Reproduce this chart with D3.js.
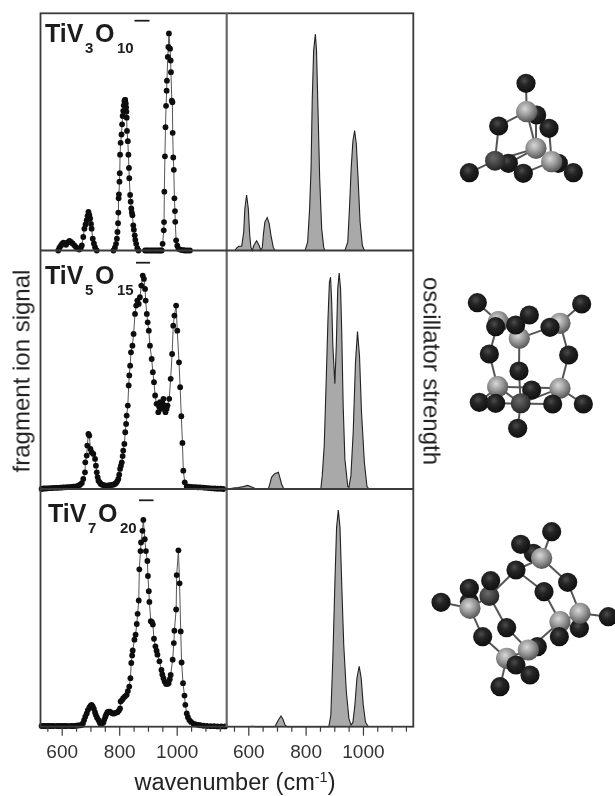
<!DOCTYPE html>
<html><head><meta charset="utf-8">
<script src="https://cdnjs.cloudflare.com/ajax/libs/d3/7.8.5/d3.min.js"></script>
<style>html,body{margin:0;padding:0;background:#fff}svg{display:block}text{font-family:"Liberation Sans",Arial,sans-serif}</style>
</head><body><div id="c"></div>
<script>
// --- wavenumber ticks
const majorTicks=[600,800,1000];
const minorTicks=[550,650,700,750,850,900,950,1050,1100,1150];
// --- measured fragment ion signal [wavenumber, intensity]
const measured3=[[588,0],[592,.012],[597,.02],[601,.028],[606,.033],[610,.03],[615,.024],[621,.034],[627,.04],[632,.036],[638,.03],[644,.022],[650,.014],[656,.008],[661,.004],[666,.01],[670,.021],[675,.057],[679,.092],[683,.11],[687,.128],[690,.146],[693,.163],[696,.15],[699,.135],[702,.112],[704,.092],[708,.05],[712,.03],[716,.014],[722,0],[780,0],[785,.012],[789,.028],[792,.05],[794,.078],[796,.115],[797,.16],[798,.22],[799,.237],[801,.29],[802,.326],[803,.404],[805,.454],[808,.489],[810,.532],[812,.567],[814,.589],[816,.612],[818,.63],[820,.635],[821,.635],[823,.62],[824,.603],[825,.585],[826,.56],[827,.504],[830,.461],[832,.404],[834,.348],[835,.305],[838,.234],[840,.206],[842,.177],[844,.16],[846,.149],[849,.106],[851,.088],[854,.064],[856,.045],[859,.028],[863,.01],[867,0],[890,0],[896,0],[902,0],[908,0],[914,0],[920,0],[926,0],[932,0],[938,0],[943,0],[948,0],[951,.028],[955,.085],[956,.12],[957,.248],[959,.397],[961,.52],[963,.61],[965,.674],[966,.716],[969,.816],[971,.858],[973,.915],[977,.851],[979,.801],[980,.752],[983,.632],[985,.625],[986,.496],[988,.392],[990,.34],[992,.22],[994,.166],[995,.121],[998,.043],[1002,.02],[1006,.007],[1012,.004],[1018,.002],[1024,.001],[1030,0],[1038,0],[1046,0]];
const measured5=[[530,0],[537,.002],[544,.002],[551,.003],[559,.004],[566,.004],[573,.005],[580,.005],[587,.005],[594,.006],[600,.006],[606,.007],[613,.007],[620,.008],[627,.008],[634,.009],[640,.01],[646,.01],[652,.011],[658,.014],[664,.018],[670,.025],[675,.042],[681,.07],[682,.112],[687,.14],[689,.182],[693,.231],[696,.224],[700,.168],[704,.154],[710,.147],[716,.126],[719,.098],[722,.07],[725,.05],[728,.035],[732,.028],[736,.021],[741,.018],[746,.016],[751,.014],[757,.014],[763,.015],[769,.016],[774,.017],[780,.018],[785,.021],[789,.025],[793,.032],[797,.042],[800,.06],[803,.084],[806,.098],[809,.112],[812,.138],[814,.161],[818,.189],[821,.238],[824,.273],[826,.308],[830,.35],[833,.434],[835,.476],[838,.517],[841,.573],[846,.601],[850,.65],[855,.734],[859,.769],[863,.79],[868,.776],[872,.804],[877,.853],[882,.895],[886,.881],[890,.839],[892,.79],[896,.734],[899,.699],[903,.664],[907,.601],[913,.545],[917,.49],[921,.448],[925,.392],[930,.357],[936,.322],[939,.345],[942,.364],[945,.35],[948,.336],[951,.36],[954,.378],[958,.35],[961,.322],[965,.336],[968,.35],[974,.378],[979,.462],[984,.566],[988,.685],[992,.727],[998,.769],[1002,.664],[1008,.531],[1012,.427],[1016,.305],[1020,.193],[1023,.077],[1028,.028],[1035,.011],[1042,.01],[1050,.009],[1058,.008],[1066,.008],[1074,.007],[1082,.007],[1093,.006],[1102,.005],[1112,.004],[1122,.003],[1132,.002],[1142,.001],[1152,.001],[1162,0]];
const measured7=[[530,.003],[537,.003],[544,.003],[551,.003],[558,.003],[565,.003],[572,.003],[583,.003],[590,.003],[597,.003],[604,.003],[611,.003],[618,.003],[629,.003],[636,.003],[643,.003],[650,.004],[657,.005],[664,.006],[670,.007],[674,.015],[678,.028],[682,.042],[687,.056],[691,.07],[696,.08],[700,.088],[704,.092],[708,.085],[712,.075],[716,.06],[719,.049],[723,.038],[728,.028],[732,.018],[736,.01],[740,.012],[745,.018],[748,.03],[752,.042],[755,.052],[759,.061],[763,.063],[768,.063],[774,.058],[780,.055],[787,.058],[794,.061],[799,.068],[803,.077],[805,.106],[810,.112],[814,.12],[820,.127],[826,.134],[830,.15],[835,.169],[839,.204],[842,.268],[845,.3],[847,.321],[853,.366],[857,.387],[861,.432],[864,.475],[868,.531],[870,.662],[874,.739],[876,.775],[881,.824],[884,.87],[889,.789],[893,.739],[898,.697],[900,.634],[903,.57],[905,.525],[910,.444],[914,.44],[917,.43],[921,.37],[926,.338],[930,.32],[933,.303],[940,.275],[947,.239],[950,.22],[954,.204],[958,.19],[963,.18],[968,.18],[972,.183],[976,.2],[979,.218],[986,.282],[990,.352],[992,.404],[998,.493],[1000,.638],[1006,.742],[1010,.603],[1014,.401],[1017,.27],[1022,.183],[1027,.131],[1030,.092],[1035,.056],[1039,.04],[1044,.028],[1050,.02],[1058,.013],[1066,.01],[1074,.008],[1082,.006],[1093,.004],[1105,.003],[1118,.002],[1130,.002],[1142,.001],[1155,.001],[1168,.001]];
// --- calculated oscillator strength [wavenumber, intensity]
const calc3=[[553,0],[559,.01],[567,.018],[577,.018],[579,.035],[584,.078],[588,.177],[594,.234],[600,.177],[605,.064],[609,.014],[614,0],[619,.021],[629,.041],[638,.021],[644,0],[649,.014],[653,.071],[658,.121],[666,.139],[673,.113],[679,.064],[687,.014],[693,0],[798,0],[807,.035],[814,.177],[819,.348],[823,.631],[828,.844],[834,.912],[838,.844],[843,.603],[849,.305],[856,.092],[863,.014],[867,0],[937,0],[947,.035],[953,.177],[959,.348],[965,.461],[971,.506],[977,.447],[983,.305],[990,.121],[998,.021],[1005,0]];
const calc5=[[530,0],[548,.004],[565,.006],[583,.01],[598,.015],[612,.008],[626,.001],[635,0],[670,0],[676,.025],[681,.049],[691,.063],[705,.07],[710,.049],[716,.021],[724,0],[853,0],[858,.056],[865,.182],[872,.462],[878,.713],[883,.867],[887,.888],[891,.783],[895,.601],[902,.441],[907,.601],[912,.839],[917,.905],[922,.839],[926,.657],[931,.35],[937,.126],[947,.011],[951,.007],[958,.056],[966,.238],[974,.531],[981,.66],[988,.559],[995,.322],[1005,.112],[1014,.011],[1021,0]];
const calc7=[[612,.003],[623,0],[693,0],[699,.014],[705,.028],[714,.045],[721,.031],[728,.007],[735,0],[881,0],[888,.049],[895,.289],[902,.599],[908,.838],[914,.911],[920,.838],[926,.599],[933,.345],[942,.148],[951,.035],[958,.007],[965,.018],[972,.092],[979,.204],[987,.254],[994,.204],[1001,.092],[1009,.018],[1019,0]];
// --- molecule sketches, in each sketch's own units: [u, v, kind]  (O oxygen, V light metal, D dark metal)
const atoms3=[[320,165,'O'],[385,310,'O'],[235,310,'O'],[318,265,'V'],[290,155,'V'],[195,302,'D'],[206,198,'O'],[357,205,'O'],[365,305,'V'],[288,70,'O'],[118,338,'O'],[280,340,'O'],[430,338,'O']];
const bonds3=[[288,70,290,155],[290,155,206,198],[206,198,195,302],[118,338,195,302],[290,155,357,205],[357,205,365,305],[195,302,280,340],[280,340,365,305],[318,265,235,310],[318,265,318,180],[365,305,430,338],[290,155,318,265],[195,302,318,265]];
const atoms5=[[205,125,'V'],[390,130,'V'],[298,105,'O'],[268,175,'V'],[203,320,'V'],[390,325,'V'],[305,330,'O'],[148,367,'O'],[460,372,'O'],[272,370,'D'],[197,140,'O'],[257,135,'O'],[360,142,'O'],[178,222,'O'],[416,225,'O'],[267,273,'O'],[197,370,'O'],[368,372,'O'],[142,68,'O'],[455,72,'O'],[263,445,'O']];
const bonds5=[[142,68,205,125],[455,72,390,130],[205,125,178,222],[178,222,203,320],[390,130,416,225],[416,225,390,325],[268,175,267,273],[267,273,272,370],[272,370,263,445],[203,320,390,325],[197,370,368,372],[148,367,203,320],[460,372,390,325],[268,175,360,142],[203,320,272,370],[390,325,272,370]];
const atoms7=[[310,100,'O'],[118,245,'O'],[120,265,'V'],[448,325,'O'],[322,380,'O'],[272,73,'O'],[335,115,'V'],[178,228,'D'],[118,205,'O'],[182,182,'O'],[258,150,'O'],[342,215,'O'],[413,187,'O'],[450,280,'V'],[390,305,'V'],[388,350,'O'],[230,323,'O'],[158,350,'O'],[230,415,'V'],[295,390,'V'],[258,435,'O'],[300,465,'O'],[365,35,'O'],[33,247,'O'],[535,290,'O'],[210,500,'O']];
const bonds7=[[365,35,335,115],[335,115,413,187],[413,187,450,280],[450,280,535,290],[335,115,258,150],[258,150,178,228],[178,228,230,323],[230,323,295,390],[120,265,158,350],[158,350,230,415],[33,247,120,265],[120,265,178,228],[230,415,210,500],[230,415,295,390],[295,390,390,305],[258,150,342,215],[342,215,390,305],[390,305,450,280],[272,73,335,115]];

const W=615,H=796;
const frame={l:40.5,m:226.7,r:413.3,rows:[13.3,250.5,489,726.7]};
const svg=d3.select('#c').append('svg').attr('width',W).attr('height',H);
const defs=svg.append('defs');
function grad(id,stops){const g=defs.append('radialGradient').attr('id',id).attr('cx','.42').attr('cy','.36').attr('r','.62');
  stops.forEach(s=>g.append('stop').attr('offset',s[0]).attr('stop-color',s[1]));}
grad('gO',[[0,'#4c4c4c'],[.4,'#252525'],[1,'#101010']]);
grad('gV',[[0,'#d8d8d8'],[.5,'#9c9c9c'],[1,'#5a5a5a']]);
grad('gD',[[0,'#6a6a6a'],[.55,'#454545'],[1,'#262626']]);
defs.append('filter').attr('id','soft').append('feGaussianBlur').attr('stdDeviation',.6);
defs.append('filter').attr('id','soft2').append('feGaussianBlur').attr('stdDeviation',.4);

const xL=d3.scaleLinear().domain([525,1175]).range([61.7-75*.2875,61.7+575*.2875]);
const xR=d3.scaleLinear().domain([525,1175]).range([248.3-75*.2866,248.3+575*.2866]);
const rowY=i=>d3.scaleLinear().domain([0,1]).range([frame.rows[i+1],frame.rows[i]]);
const ink='#3a3a3a';

const blur=svg.append('g').attr('filter','url(#soft2)');
const measured=[measured3,measured5,measured7], calc=[calc3,calc5,calc7];
measured.forEach((d,i)=>{
  const y=rowY(i);
  const g=blur.append('g');
  g.append('path').attr('d',d3.line().x(p=>xL(p[0])).y(p=>y(p[1]))(d)).attr('fill','none').attr('stroke','#555').attr('stroke-width',1);
  g.selectAll('circle').data(d).join('circle').attr('cx',p=>xL(p[0])).attr('cy',p=>y(p[1])).attr('r',2.9).attr('fill','#111');
});
calc.forEach((d,i)=>{
  const y=rowY(i);
  blur.append('path').attr('d',d3.area().x(p=>xR(p[0])).y0(y(0)).y1(p=>y(p[1]))(d)).attr('fill','#a9a9a9').attr('stroke','none');
  blur.append('path').attr('d',d3.line().x(p=>xR(p[0])).y(p=>y(p[1]))(d)).attr('fill','none').attr('stroke','#222').attr('stroke-width',1.1);
});

// frame
const fr=blur.append('g').attr('fill','none').attr('stroke',ink).attr('stroke-width',1.8);
fr.append('rect').attr('x',frame.l).attr('y',frame.rows[0]).attr('width',frame.r-frame.l).attr('height',frame.rows[3]-frame.rows[0]);
fr.append('line').attr('x1',frame.m).attr('x2',frame.m).attr('y1',frame.rows[0]).attr('y2',frame.rows[3]).attr('stroke','#666').attr('stroke-width',2.2);
[1,2].forEach(i=>fr.append('line').attr('x1',frame.l).attr('x2',frame.r).attr('y1',frame.rows[i]).attr('y2',frame.rows[i]));

// axes
[xL,xR].forEach(sc=>{
  const gMin=blur.append('g').attr('transform',`translate(0,${frame.rows[3]})`).call(d3.axisBottom(sc).tickValues(minorTicks).tickSize(5).tickFormat(''));
  const gMaj=blur.append('g').attr('transform',`translate(0,${frame.rows[3]})`).call(d3.axisBottom(sc).tickValues(majorTicks).tickSize(9).tickPadding(9).tickFormat(d3.format('d')));
  [gMin,gMaj].forEach(g=>{g.select('.domain').remove();g.selectAll('line').attr('stroke',ink).attr('stroke-width',1.2);
    g.selectAll('text').attr('font-size',19).attr('fill','#333').attr('font-family','"Liberation Sans"');});
});

// formula labels
const labels=[
 {x:45,y:42,sub1:'3',sub2:'10',ys:53,bar:[134.5,149.5,20.7]},
 {x:45,y:284,sub1:'5',sub2:'15',ys:295,bar:[136,150,262.7]},
 {x:48,y:521.5,sub1:'7',sub2:'20',ys:532.7,bar:[139,153.5,500.3]}
];
labels.forEach(l=>{
  const g=blur.append('g').attr('fill','#1c1c1c').attr('font-weight','bold');
  g.append('text').attr('x',l.x).attr('y',l.y).attr('font-size',25).text('TiV');
  g.append('text').attr('x',l.x+40).attr('y',l.ys).attr('font-size',15).text(l.sub1);
  g.append('text').attr('x',l.x+50).attr('y',l.y).attr('font-size',25).text('O');
  g.append('text').attr('x',l.x+72).attr('y',l.ys).attr('font-size',15).text(l.sub2);
  g.append('line').attr('x1',l.bar[0]).attr('x2',l.bar[1]).attr('y1',l.bar[2]).attr('y2',l.bar[2]).attr('stroke','#1c1c1c').attr('stroke-width',1.8);
});

// axis titles
const t=blur.append('text').attr('x',134.5).attr('y',790).attr('font-size',23.5).attr('fill','#222');
t.append('tspan').text('wavenumber (cm');
t.append('tspan').attr('dy',-8).attr('font-size',14.5).text('-1');
t.append('tspan').attr('dy',8).text(')');
blur.append('text').attr('transform','translate(29.5,371) rotate(-90)').attr('text-anchor','middle').attr('font-size',24).attr('fill','#222').text('fragment ion signal');
blur.append('text').attr('transform','translate(423.5,371) rotate(90)').attr('text-anchor','middle').attr('font-size',24).attr('fill','#222').text('oscillator strength');

// molecules
const mols=[
 {atoms:atoms3,bonds:bonds3,ox:430,oy:60},
 {atoms:atoms5,bonds:bonds5,ox:430,oy:280},
 {atoms:atoms7,bonds:bonds7,ox:430,oy:520}
];
const fill={O:'url(#gO)',V:'url(#gV)',D:'url(#gD)'}, rad={O:9.6,V:10.6,D:10};
mols.forEach(m=>{
  const u=d3.scaleLinear().domain([0,555]).range([m.ox,m.ox+185]);
  const v=d3.scaleLinear().domain([0,555]).range([m.oy,m.oy+185]);
  const g=svg.append('g').attr('filter','url(#soft)');
  g.selectAll('line').data(m.bonds).join('line').attr('x1',b=>u(b[0])).attr('y1',b=>v(b[1])).attr('x2',b=>u(b[2])).attr('y2',b=>v(b[3])).attr('stroke','#555').attr('stroke-width',2);
  g.selectAll('circle').data(m.atoms).join('circle').attr('cx',a=>u(a[0])).attr('cy',a=>v(a[1])).attr('r',a=>rad[a[2]]).attr('fill',a=>fill[a[2]]);
});
</script></body></html>
